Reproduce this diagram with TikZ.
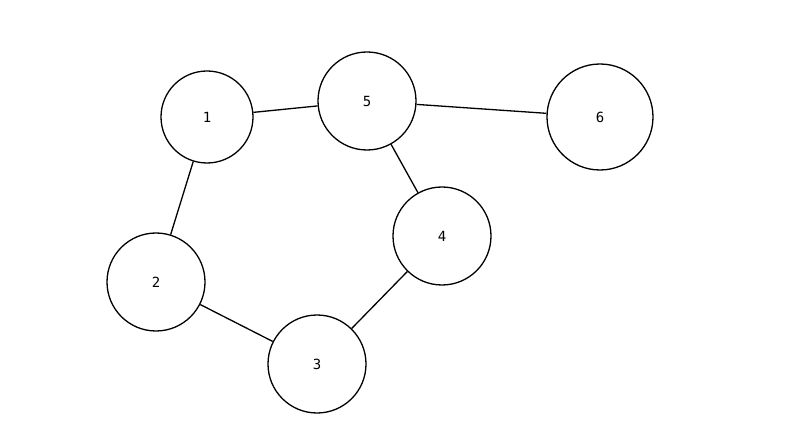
\documentclass[tikz,border=0pt]{standalone}
\usepackage{fontspec}
\setmonofont{DejaVu Sans Mono}
\begin{document}
\begin{tikzpicture}[x=1pt,y=-1pt,
    vertex/.style={draw, circle, line width=1.3pt, inner sep=0pt, minimum size=98pt, font=\ttfamily\fontsize{14}{14}\selectfont},
    edge/.style={line width=1.3pt}]
        \useasboundingbox (0,0) rectangle (805,435);
        % vertices
        \node[vertex, minimum size=92pt] (v1) at (207,117) {1};
        \node[vertex] (v5) at (367,101) {5};
        \node[vertex, minimum size=106pt] (v6) at (600,117) {6};
        \node[vertex] (v4) at (442,236) {4};
        \node[vertex] (v2) at (156,282) {2};
        \node[vertex] (v3) at (317,364) {3};
        % edges
        \foreach \a/\b in {v1/v5, v5/v6, v5/v4, v4/v3, v3/v2, v2/v1} {
            \draw[edge] (\a) -- (\b);
        }
    \end{tikzpicture}
\end{document}
